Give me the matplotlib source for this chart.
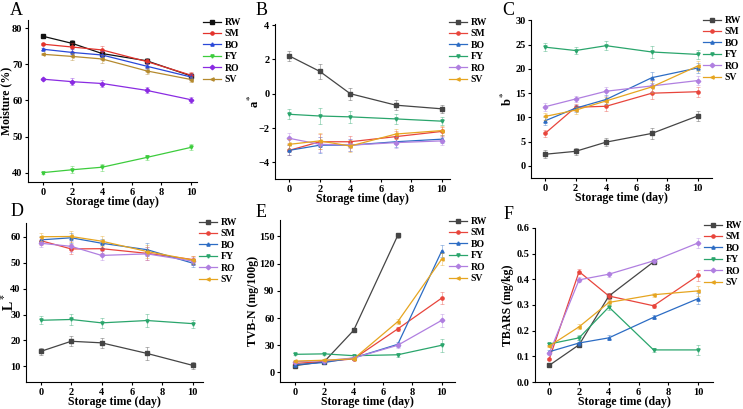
"""Storage quality of fish samples: six panels (moisture, colour, TVB-N, TBARS)."""
import numpy as np
import matplotlib.pyplot as plt

plt.rcParams["font.family"] = ["Liberation Serif", "DejaVu Serif"]
plt.rcParams["font.weight"] = "bold"
plt.rcParams["mathtext.fontset"] = "stix"

DAYS = [0, 2, 4, 7, 10]
GROUPS = ["RW", "SM", "BO", "FY", "RO", "SV"]

# --- panel data (mean per group) ---
moisture = {
    "RW": [77.8, 75.8, 73.0, 71.0, 66.8],
    "SM": [75.6, 74.8, 74.0, 70.8, 67.0],
    "BO": [74.2, 73.3, 72.6, 69.5, 66.5],
    "FY": [40.0, 40.8, 41.5, 44.2, 47.0],
    "RO": [65.9, 65.2, 64.7, 62.8, 60.2],
    "SV": [72.8, 72.2, 71.5, 68.2, 65.8],
}
moisture_err = [0.3, 1.0, 1.0, 0.8, 0.8]
redness = {
    "RW": [2.2, 1.3, 0.0, -0.67, -0.88],
    "SM": [-3.3, -2.8, -2.8, -2.5, -2.2],
    "BO": [-3.3, -3.0, -3.0, -2.8, -2.65],
    "FY": [-1.2, -1.3, -1.35, -1.47, -1.6],
    "RO": [-2.6, -2.95, -3.0, -2.85, -2.75],
    "SV": [-2.95, -2.75, -3.05, -2.35, -2.15],
}
redness_err = [0.3, 0.45, 0.35, 0.3, 0.25]
yellowness = {
    "RW": [2.4, 3.0, 4.9, 6.7, 10.3],
    "SM": [6.7, 12.1, 12.3, 15.0, 15.3],
    "BO": [9.3, 11.9, 13.7, 18.2, 20.2],
    "FY": [24.5, 23.8, 24.8, 23.5, 23.0],
    "RO": [12.2, 13.8, 15.4, 16.5, 17.6],
    "SV": [10.2, 11.5, 13.4, 16.3, 20.6],
}
yellowness_err = [0.8, 0.7, 0.9, 1.2, 1.0]
lightness = {
    "RW": [15.8, 19.7, 19.1, 15.0, 10.4],
    "SM": [58.5, 55.3, 55.4, 53.6, 51.2],
    "BO": [58.8, 59.6, 57.5, 55.0, 49.8],
    "FY": [27.8, 28.1, 26.8, 27.7, 26.5],
    "RO": [57.5, 56.3, 52.8, 53.4, 50.6],
    "SV": [60.0, 60.1, 58.3, 54.3, 51.0],
}
lightness_err = [1.5, 2.0, 1.8, 2.5, 1.5]
tvbn = {
    "RW": [7.5, 12.0, 46.5, 151.0, np.nan],
    "SM": [10.0, 12.0, 15.0, 48.0, 82.0],
    "BO": [8.5, 11.0, 16.0, 31.0, 134.0],
    "FY": [20.0, 20.5, 18.5, 19.5, 30.0],
    "RO": [12.0, 13.0, 16.0, 30.0, 57.5],
    "SV": [12.5, 13.5, 15.0, 56.0, 125.0],
}
tvbn_err = [1.0, 1.0, 1.5, 2.5, 7.0]
tbars = {
    "RW": [0.065, 0.145, 0.335, 0.468, np.nan],
    "SM": [0.09, 0.43, 0.335, 0.297, 0.415],
    "BO": [0.118, 0.152, 0.172, 0.252, 0.325],
    "FY": [0.148, 0.172, 0.292, 0.125, 0.125],
    "RO": [0.112, 0.398, 0.42, 0.472, 0.542],
    "SV": [0.14, 0.215, 0.31, 0.34, 0.355],
}
tbars_err = [0.005, 0.01, 0.01, 0.008, 0.02]

MARKERS = {"RW": "s", "SM": "o", "BO": "^", "FY": "v", "RO": "D", "SV": "<"}
COLORS_A = {"RW": "#111111", "SM": "#e3332c", "BO": "#2a48d8", "FY": "#3ccc3c",
            "RO": "#8a2be2", "SV": "#b58a2e"}
COLORS = {"RW": "#454545", "SM": "#e8453c", "BO": "#2c6cc4", "FY": "#2aa56c",
          "RO": "#b07fe0", "SV": "#e6a520"}

# letter, data, err, ylabel (text, size, right-edge x pixel), ylim, yticks, xlim, colors,
# axes rect in pixels (l, t, r, b), letter pos (x, y), legend anchor (x, y)
PANELS = [
    ("A", moisture, moisture_err, ("Moisture (%)", 8.5, 12), (37.4, 82.3), [40, 50, 60, 70, 80],
     (-1.0, 10.4), COLORS_A, (28, 20, 197, 182), (10, 2), (203, 18)),
    ("B", redness, redness_err, (r"a$^*$", 9, 262), (-4.97, 4.06), [-4, -2, 0, 2, 4],
     (-0.94, 10.55), COLORS, (275, 24, 450, 179), (256, 2), (449, 18)),
    ("C", yellowness, yellowness_err, (r"b$^*$", 9, 515), (-2.5, 30.1), [0, 5, 10, 15, 20, 25, 30],
     (-0.92, 10.94), COLORS, (531, 20, 712, 178), (502, 2), (703, 16)),
    ("D", lightness, lightness_err, (r"L$^*$", 10, 17), (4.0, 65.3), [10, 20, 30, 40, 50, 60],
     (-0.97, 10.67), COLORS, (26, 223, 203, 382), (11, 203), (199, 218)),
    ("E", tvbn, tvbn_err, ("TVB-N (mg/100g)", 8.5, 259), (-10.5, 168), [0, 30, 60, 90, 120, 150],
     (-1.02, 10.9), COLORS, (280, 220, 455, 382), (256, 204), (449, 217)),
    ("F", tbars, tbars_err, ("TBARS (mg/kg)", 8.5, 514), (0, 0.6), [0.0, 0.1, 0.2, 0.3, 0.4, 0.5, 0.6],
     (-0.96, 10.99), COLORS, (535, 228, 713, 382), (504, 206), (704, 221)),
]

W, H = 743, 409
fig = plt.figure(figsize=(W / 100, H / 100), dpi=100)

for (letter, data, err, (ylabel, ysize, yx), ylim, yticks, xlim, colors,
     (l, t, r, b), (lx, ly), (gx, gy)) in PANELS:
    ax = fig.add_axes([l / W, 1 - b / H, (r - l) / W, (b - t) / H])
    handles = []
    for g in GROUPS:
        y = np.array(data[g], dtype=float)
        ax.errorbar(DAYS, y, yerr=err, fmt="none", ecolor=colors[g], alpha=0.45,
                    elinewidth=0.6, capsize=1.5, capthick=0.6)
        line, = ax.plot(DAYS, y, color=colors[g], linewidth=0.9,
                        marker=MARKERS[g], markersize=2.3, label=g)
        handles.append(line)
    ax.set_xlim(*xlim)
    ax.set_xticks([0, 2, 4, 6, 8, 10])
    ax.set_ylim(*ylim)
    ax.set_yticks(yticks)
    if letter == "F":
        ax.set_yticklabels([f"{v:.1f}" for v in yticks])
    for side in ("top", "right"):
        ax.spines[side].set_visible(False)
    for side in ("left", "bottom"):
        ax.spines[side].set_linewidth(0.8)
    ax.tick_params(labelsize=7.5, length=2.5, width=0.8, pad=1.5)
    for lab in ax.get_xticklabels() + ax.get_yticklabels():
        lab.set_fontweight("bold")
    ax.set_xlabel("Storage time (day)", fontsize=8.5, fontweight="bold", labelpad=-0.5)
    ax.set_ylabel(ylabel, fontsize=ysize, fontweight="bold")
    ax.yaxis.set_label_coords((yx - l) / (r - l), 0.5)
    leg = fig.legend(handles=handles, loc="upper left",
                     bbox_to_anchor=(gx / W, 1 - gy / H), frameon=False,
                     fontsize=7, handlelength=1.9, handletextpad=0.3,
                     labelspacing=0.25, borderaxespad=0, borderpad=0)
    for txt in leg.get_texts():
        txt.set_fontweight("bold")
    fig.text(lx / W, 1 - ly / H, letter, fontsize=13,
             fontweight="normal", va="top", ha="left")

fig.savefig("out.png", dpi=100)
